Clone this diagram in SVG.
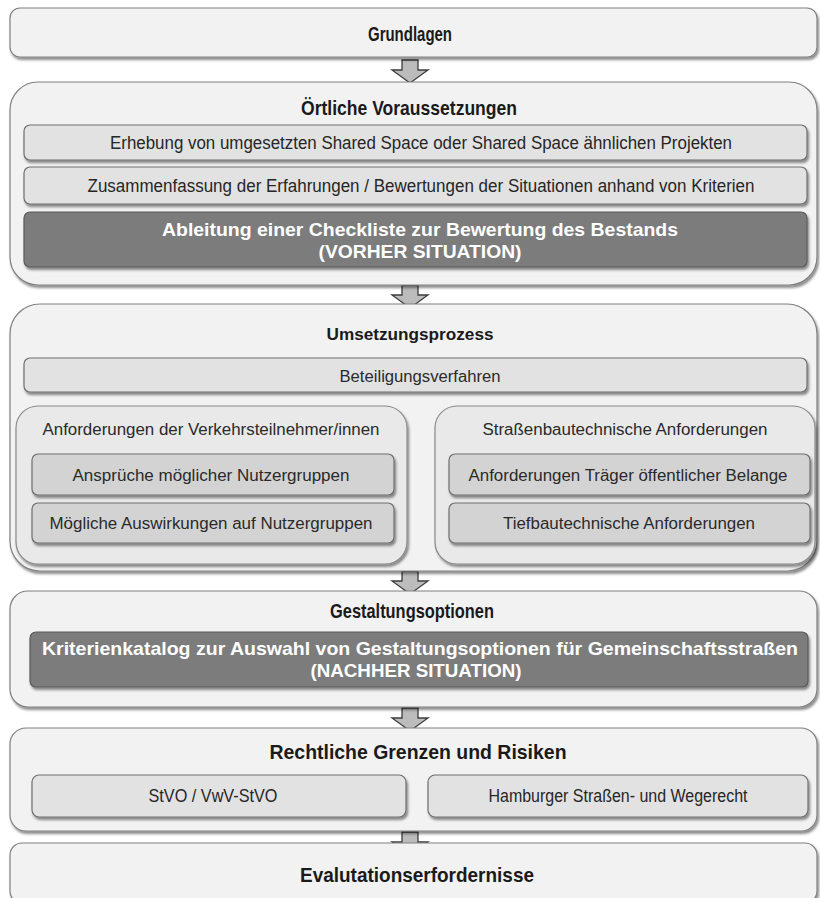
<svg xmlns="http://www.w3.org/2000/svg" width="820" height="898" viewBox="0 0 820 898">
<defs>
<filter id="sh" x="-5%" y="-10%" width="110%" height="130%">
<feDropShadow dx="1.5" dy="2.5" stdDeviation="1.2" flood-color="#000" flood-opacity="0.45"/>
</filter>
<style>
.outer{fill:#f2f2f2;stroke:#808080;stroke-width:1.2;filter:url(#sh)}
.light{fill:#e2e2e2;stroke:#6e6e6e;stroke-width:1.2;filter:url(#sh)}
.grp{fill:#e9e9e9;stroke:#8a8a8a;stroke-width:1.2;filter:url(#sh)}
.mid{fill:#d3d3d3;stroke:#6e6e6e;stroke-width:1.2;filter:url(#sh)}
.dark{fill:#7b7b7b;stroke:#5a5a5a;stroke-width:1.2;filter:url(#sh)}
.arr{fill:#bcbcbc;stroke:#3c3c3c;stroke-width:1.3;stroke-linejoin:miter}
text{font-family:"Liberation Sans",Arial,sans-serif;text-anchor:middle;dominant-baseline:central}
.t{font-weight:bold;font-size:20.5px;fill:#1a1a1a}
.b{font-size:17.5px;fill:#262626}
.w{font-weight:bold;font-size:19px;fill:#ffffff}
.r{font-size:16px;fill:#2a2a2a}
.rt{font-weight:bold;font-size:17px;fill:#1a1a1a}
</style>
</defs>

<g id="connectors">
<path class="arr" d="M402,60 H418 V70 H428 L410,83 L392,70 H402 Z"/>
<path class="arr" d="M402,285 H418 V295 H428 L410,308 L392,295 H402 Z"/>
<path class="arr" d="M402,571 H418 V581 H428 L410,594 L392,581 H402 Z"/>
<path class="arr" d="M402,708 H418 V718 H428 L410,731 L392,718 H402 Z"/>
<path class="arr" d="M402,832 H418 V842 H428 L410,855 L392,842 H402 Z"/>
</g>

<g id="grundlagen">
<rect class="outer" x="10" y="8" width="807" height="49" rx="10"/>
<text class="t" x="410" y="33" textLength="84" lengthAdjust="spacingAndGlyphs">Grundlagen</text>
</g>

<g id="oertliche">
<rect class="outer" x="10" y="82" width="807" height="203" rx="28"/>
<text class="t" x="409" y="107" textLength="216" lengthAdjust="spacingAndGlyphs">Örtliche Voraussetzungen</text>
</g>
<g id="erhebung">
<rect class="light" x="24" y="125" width="783" height="35" rx="6"/>
<text class="b" x="421" y="143" textLength="622" lengthAdjust="spacingAndGlyphs">Erhebung von umgesetzten Shared Space oder Shared Space ähnlichen Projekten</text>
</g>
<g id="zusammenfassung">
<rect class="light" x="24" y="167" width="783" height="37" rx="6"/>
<text class="b" x="421" y="186" textLength="667" lengthAdjust="spacingAndGlyphs">Zusammenfassung der Erfahrungen / Bewertungen der Situationen anhand von Kriterien</text>
</g>
<g id="checkliste">
<rect class="dark" x="24" y="212" width="783" height="55" rx="6"/>
<text class="w" x="420" y="229" textLength="516" lengthAdjust="spacingAndGlyphs">Ableitung einer Checkliste zur Bewertung des Bestands</text>
<text class="w" x="420" y="251" textLength="203" lengthAdjust="spacingAndGlyphs">(VORHER SITUATION)</text>
</g>

<g id="umsetzung">
<rect class="outer" x="10" y="304" width="807" height="267" rx="30"/>
<text class="rt" x="410" y="334" textLength="167" lengthAdjust="spacingAndGlyphs">Umsetzungsprozess</text>
</g>
<g id="beteiligung">
<rect class="light" x="24" y="358" width="783" height="34" rx="6"/>
<text class="r" x="420" y="376" textLength="161" lengthAdjust="spacingAndGlyphs">Beteiligungsverfahren</text>
</g>
<g id="verkehrsteilnehmer">
<rect class="grp" x="16" y="406" width="391" height="158" rx="22"/>
<text class="r" x="211" y="429" textLength="337" lengthAdjust="spacingAndGlyphs">Anforderungen der Verkehrsteilnehmer/innen</text>
</g>
<g id="ansprueche">
<rect class="mid" x="32" y="454" width="362" height="41" rx="6"/>
<text class="r" x="211" y="475" textLength="277" lengthAdjust="spacingAndGlyphs">Ansprüche möglicher Nutzergruppen</text>
</g>
<g id="auswirkungen">
<rect class="mid" x="32" y="503" width="362" height="40" rx="6"/>
<text class="r" x="211" y="523" textLength="323" lengthAdjust="spacingAndGlyphs">Mögliche Auswirkungen auf Nutzergruppen</text>
</g>
<g id="strassenbau">
<rect class="grp" x="435" y="406" width="380" height="158" rx="22"/>
<text class="r" x="625" y="429" textLength="285" lengthAdjust="spacingAndGlyphs">Straßenbautechnische Anforderungen</text>
</g>
<g id="traeger">
<rect class="mid" x="449" y="454" width="361" height="41" rx="6"/>
<text class="r" x="628" y="475" textLength="319" lengthAdjust="spacingAndGlyphs">Anforderungen Träger öffentlicher Belange</text>
</g>
<g id="tiefbau">
<rect class="mid" x="449" y="503" width="361" height="40" rx="6"/>
<text class="r" x="629" y="523" textLength="252" lengthAdjust="spacingAndGlyphs">Tiefbautechnische Anforderungen</text>
</g>

<g id="gestaltung">
<rect class="outer" x="10" y="591" width="807" height="116" rx="18"/>
<text class="t" x="412" y="610" textLength="164" lengthAdjust="spacingAndGlyphs">Gestaltungsoptionen</text>
</g>
<g id="kriterienkatalog">
<rect class="dark" x="30" y="632" width="778" height="55" rx="6"/>
<text class="w" x="420" y="648" textLength="756" lengthAdjust="spacingAndGlyphs">Kriterienkatalog zur Auswahl von Gestaltungsoptionen für Gemeinschaftsstraßen</text>
<text class="w" x="416" y="670" textLength="211" lengthAdjust="spacingAndGlyphs">(NACHHER SITUATION)</text>
</g>

<g id="rechtliche">
<rect class="outer" x="10" y="728" width="807" height="103" rx="16"/>
<text class="t" x="418" y="751" textLength="297" lengthAdjust="spacingAndGlyphs">Rechtliche Grenzen und Risiken</text>
</g>
<g id="stvo">
<rect class="light" x="32" y="775" width="374" height="42" rx="7"/>
<text class="b" x="213" y="796" textLength="129" lengthAdjust="spacingAndGlyphs">StVO / VwV-StVO</text>
</g>
<g id="wegerecht">
<rect class="light" x="428" y="775" width="380" height="42" rx="7"/>
<text class="b" x="618" y="796" textLength="259" lengthAdjust="spacingAndGlyphs">Hamburger Straßen- und Wegerecht</text>
</g>

<g id="evaluation">
<rect class="outer" x="10" y="843" width="807" height="60" rx="12"/>
<text class="t" x="417" y="874" textLength="234" lengthAdjust="spacingAndGlyphs">Evalutationserfordernisse</text>
</g>
</svg>
